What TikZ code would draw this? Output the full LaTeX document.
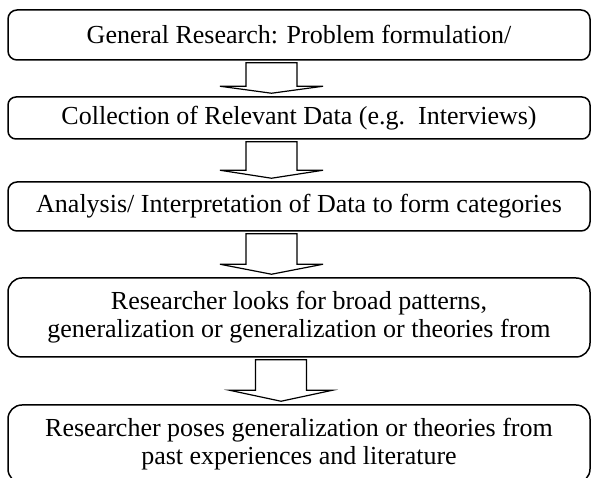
\documentclass[tikz,border=0pt]{standalone}
\usepackage{fontspec}
\setmainfont{Liberation Serif}
\usetikzlibrary{calc}

\tikzset{
  stepbox/.style={draw, line width=1.5pt, minimum width=582pt, inner sep=0pt,
    align=center, font=\fontsize{26}{28}\selectfont},
  blockarrow/.style={draw, line width=1.2pt, line join=miter}
}

% Hollow block arrow between two steps:
% #1 upper node, #2 lower node, #3 x of the arrow axis (pt), #4 head height (pt)
\newcommand\flowarrow[4]{%
  \draw[blockarrow] let \p1=(#1.south), \p2=(#2.north) in
    (#3pt-25.5pt,\y1-2pt) -- (#3pt+25.5pt,\y1-2pt)
    -- (#3pt+25.5pt,\y2+3pt+#4pt) -- (#3pt+51.5pt,\y2+3pt+#4pt)
    -- (#3pt,\y2+3pt)
    -- (#3pt-51.5pt,\y2+3pt+#4pt) -- (#3pt-25.5pt,\y2+3pt+#4pt) -- cycle;
}

\begin{document}
\begin{tikzpicture}
\useasboundingbox (0pt,0pt) rectangle (592pt,478pt);

\node[stepbox, minimum height=50pt, rounded corners=9pt] (s1) at (299pt,443pt)
  {General Research: Problem formulation/};
\node[stepbox, minimum height=42pt, rounded corners=8pt] (s2) at (299pt,360pt)
  {Collection of Relevant Data (e.g.\ \ Interviews)};
\node[stepbox, minimum height=49pt, rounded corners=9pt] (s3) at (299pt,271.5pt)
  {Analysis/ Interpretation of Data to form categories};
\node[stepbox, minimum height=79pt, rounded corners=14pt] (s4) at (299pt,160.5pt)
  {Researcher looks for broad patterns,\\generalization or generalization or theories from};
\node[stepbox, minimum height=78pt, rounded corners=14pt] (s5) at (299pt,34pt)
  {Researcher poses generalization or theories from\\past experiences and literature};

\flowarrow{s1}{s2}{271.5}{7}
\flowarrow{s2}{s3}{271.5}{8}
\flowarrow{s3}{s4}{271.5}{10}
\flowarrow{s4}{s5}{281}{11}
\end{tikzpicture}
\end{document}
